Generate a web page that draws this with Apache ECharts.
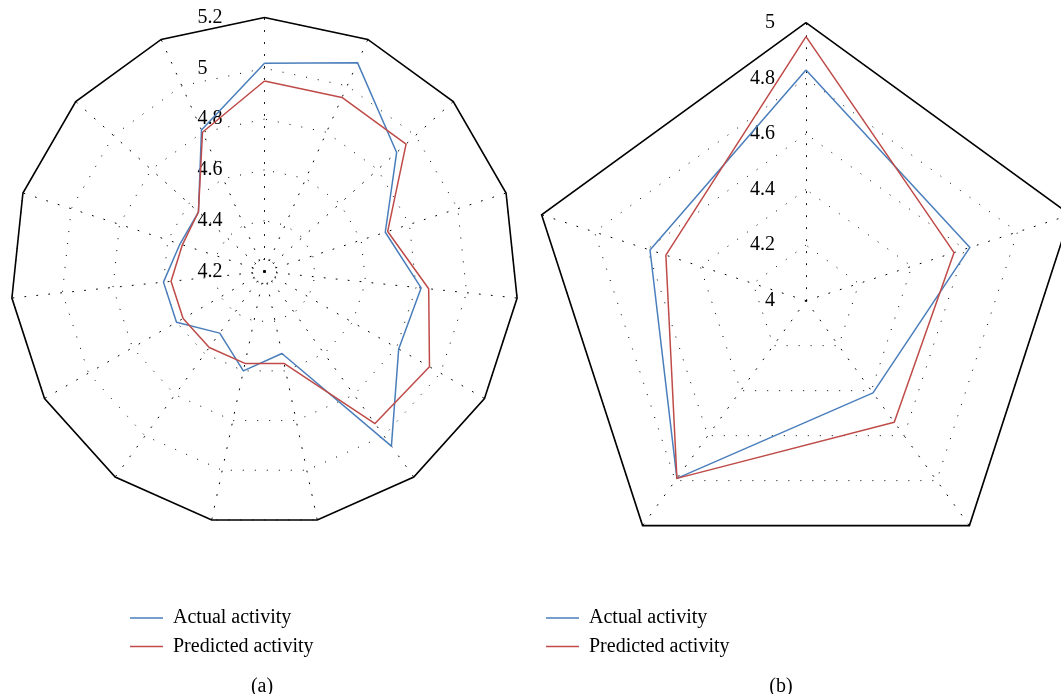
<!DOCTYPE html>
<html><head><meta charset="utf-8">
<script src="https://cdn.jsdelivr.net/npm/echarts@6/dist/echarts.min.js"></script>
<style>html,body{margin:0;padding:0;background:#fff}#c{width:1061px;height:694px}</style>
</head><body><div id="c"></div>
<script>
// ---- Data (values listed clockwise, starting at the top axis) ----
// Chart (a): 15 axes
const actualA    = [5.02, 5.10, 4.90, 4.70, 4.82, 4.81, 5.05, 4.53, 4.60, 4.50, 4.60, 4.60, 4.55, 4.55, 4.81];
const predictedA = [4.95, 4.95, 4.95, 4.71, 4.85, 4.95, 4.94, 4.57, 4.57, 4.57, 4.57, 4.57, 4.54, 4.55, 4.80];
const ticksA = [4.2, 4.4, 4.6, 4.8, 5.0, 5.2];
// Chart (b): 5 axes
const actualB    = [4.83, 4.62, 4.41, 4.79, 4.59];
const predictedB = [4.95, 4.56, 4.54, 4.79, 4.53];
const ticksB = [4.0, 4.2, 4.4, 4.6, 4.8, 5.0];
const seriesNames = ['Actual activity', 'Predicted activity'];
const captions = ['(a)', '(b)'];

// ---- Styles ----
const FONT = 'Liberation Serif';
const BLUE = '#4A7EBB', RED = '#BE4B48';
const dotted = {color: '#000', width: 1, type: [1, 11]};

// ECharts lays radar indicators counter-clockwise; convert clockwise lists.
const ccw = a => [a[0]].concat(a.slice(1).reverse());

function radarPair(center, radius, n, ticks, labelAlign, labelMargin) {
  const min = ticks[0], max = ticks[ticks.length - 1];
  const ind = [], indOuter = [];
  for (let i = 0; i < n; i++) {
    ind.push({name: '', min: min, max: max, axisLabel: {show: i === 0}});
    indOuter.push({name: '', min: min, max: max});
  }
  return [{
    center: center, radius: radius, shape: 'polygon', splitNumber: ticks.length - 1,
    indicator: ind,
    axisName: {show: false},
    axisLine: {show: true, lineStyle: dotted},
    splitLine: {show: true, lineStyle: dotted},
    splitArea: {show: false},
    axisTick: {show: false},
    axisLabel: {show: false, fontFamily: FONT, fontSize: 20, color: '#000',
                align: labelAlign, margin: labelMargin, verticalAlign: 'middle'}
  }, {
    center: center, radius: radius, shape: 'polygon', splitNumber: 1,
    indicator: indOuter,
    axisName: {show: false},
    axisLine: {show: false},
    splitLine: {show: true, lineStyle: {color: '#000', width: 1.6, type: 'solid'}},
    splitArea: {show: false},
    axisTick: {show: false},
    axisLabel: {show: false}
  }];
}

const radars = radarPair([264.5, 271.5], 254, actualA.length, ticksA, 'left', 67)
  .concat(radarPair([806, 300.7], 278, actualB.length, ticksB, 'right', 31));

function ser(name, values, radarIndex, color) {
  return {
    type: 'radar', name: name, radarIndex: radarIndex, symbol: 'none',
    color: color,
    lineStyle: {color: color, width: 1.5},
    itemStyle: {color: color},
    data: [{name: name, value: ccw(values)}]
  };
}

function legend(left, top, name) {
  return {
    left: left, top: top, padding: 0, data: [name], selectedMode: false,
    icon: 'rect', itemWidth: 33, itemHeight: 1.5,
    textStyle: {fontFamily: FONT, fontSize: 20, color: '#000', padding: [0, 0, 0, 5]}
  };
}

const chart = echarts.init(document.getElementById('c'), null, {renderer: 'canvas'});
chart.setOption({
  backgroundColor: '#fff',
  animation: false,
  radar: radars,
  legend: [
    legend(130, 608, seriesNames[0]),
    legend(130, 636.5, seriesNames[1]),
    legend(546, 608, seriesNames[0]),
    legend(546, 636.5, seriesNames[1])
  ],
  graphic: [
    {type: 'circle', shape: {cx: 264.5, cy: 271.5, r: 12}, silent: true,
     style: {fill: 'none', stroke: '#000', lineWidth: 1, lineDash: [1, 4]}},
    {type: 'text', x: 262, y: 687, silent: true,
     style: {text: captions[0], font: '20px "Liberation Serif"', fill: '#000', align: 'center', verticalAlign: 'middle'}},
    {type: 'text', x: 781, y: 687, silent: true,
     style: {text: captions[1], font: '20px "Liberation Serif"', fill: '#000', align: 'center', verticalAlign: 'middle'}}
  ],
  series: [
    ser(seriesNames[0], actualA, 0, BLUE),
    ser(seriesNames[1], predictedA, 0, RED),
    ser(seriesNames[0], actualB, 2, BLUE),
    ser(seriesNames[1], predictedB, 2, RED)
  ]
});
</script></body></html>
